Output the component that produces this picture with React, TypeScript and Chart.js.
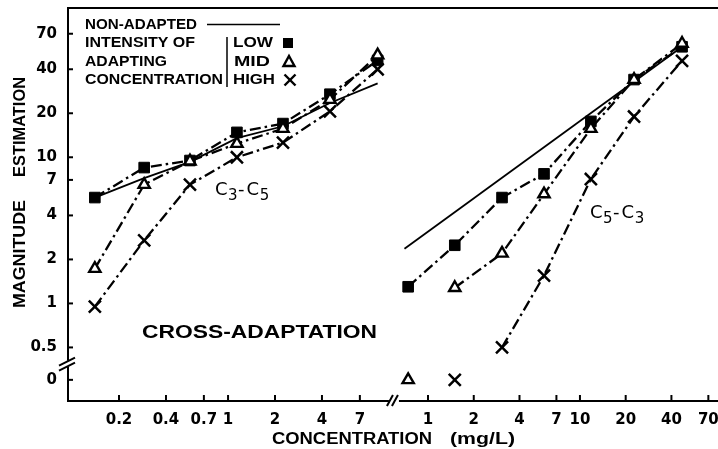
import React, { useEffect, useRef } from "react";
import { Chart, registerables } from "chart.js";

Chart.register(...registerables);

// ---- data (concentrations in mg/L, magnitude estimates) ----
// left panel: C3-C5 ; right panel: C5-C3
const LEFT_CONC = [0.14, 0.29, 0.57, 1.14, 2.25, 4.5, 9.1];
const RIGHT_CONC = [0.74, 1.5, 3.07, 5.8, 11.8, 22.7, 47];

const NONADAPTED_LEFT = [5.3, 7.2, 9.3, 13.5, 16.3, 23.5, 32];
const LOW_LEFT = [5.3, 8.5, 9.5, 14.8, 17, 27, 46];
const MID_LEFT = [1.73, 6.5, 9.4, 12.4, 15.7, 24.8, 50];
const HIGH_LEFT = [0.95, 2.7, 6.5, 10, 12.6, 20.6, 40];

const NONADAPTED_RIGHT_CONC = [0.7, 47];
const NONADAPTED_RIGHT = [2.37, 57];
const LOW_RIGHT = [1.3, 2.5, 5.3, 7.7, 17.6, 34, 57];
const MID_RIGHT = [0, 1.28, 2.2, 5.6, 15.7, 34, 60];
const HIGH_RIGHT = [null, 0, 0.5, 1.55, 7.1, 19, 45.7];

const Y_TICKS = [0, 0.5, 1, 2, 4, 7, 10, 20, 40, 70];
const Y_TICK_LABELS = ["0", "0.5", "1", "2", "4", "7", "10", "20", "40", "70"];
const X_TICKS_LEFT = [0.2, 0.4, 0.7, 1, 2, 4, 7];
const X_TICK_LABELS_LEFT = ["0.2", "0.4", "0.7", "1", "2", "4", "7"];
const X_TICKS_RIGHT = [1, 2, 4, 7, 10, 20, 40, 70];
const X_TICK_LABELS_RIGHT = ["1", "2", "4", "7", "10", "20", "40", "70"];

// ---- axis mapping (broken axes) ----
const ZERO_AT = 0.3; // where "0" sits below the y-axis break
const Y_MIN = 0.215;
const Y_MAX = 105;
const RIGHT_OFFSET = 1.282; // decades between the two x-axis segments
const RIGHT_SCALE = 0.974;
const X_MIN = -1.026;
const X_MAX = 3.141;

const uL = (c: number) => Math.log10(c);
const uR = (c: number) => RIGHT_OFFSET + RIGHT_SCALE * Math.log10(c);
const yPos = (v: number) => (v === 0 ? ZERO_AT : v);

const X_TICK_VALUES = [...X_TICKS_LEFT.map(uL), ...X_TICKS_RIGHT.map(uR)];
const X_TICK_LABELS = [...X_TICK_LABELS_LEFT, ...X_TICK_LABELS_RIGHT];
const Y_TICK_VALUES = Y_TICKS.map(yPos);
const Y_BREAK = Math.sqrt(0.5 * ZERO_AT);
const X_BREAK = (uL(7) + uR(1)) / 2;

function pts(concs: number[], vals: (number | null)[], u: (c: number) => number, zeros: boolean) {
  const out: { x: number; y: number }[] = [];
  concs.forEach((c, i) => {
    const v = vals[i];
    if (v === null || v === undefined) return;
    if (zeros ? v === 0 : v > 0) out.push({ x: u(c), y: yPos(v) });
  });
  return out;
}

const DASH = [11, 4, 2.5, 4];
const LOW_STYLE = { pointStyle: "rect", pointRadius: 7.5, pointBackgroundColor: "#000", pointBorderColor: "#000", pointBorderWidth: 1 };
const MID_STYLE = { pointStyle: "triangle", pointRadius: 6.5, pointBackgroundColor: "#fff", pointBorderColor: "#000", pointBorderWidth: 2.4 };
const HIGH_STYLE = { pointStyle: "crossRot", pointRadius: 8.5, pointBackgroundColor: "#000", pointBorderColor: "#000", pointBorderWidth: 2.5 };

const lineDs = (label: string, data: any[], style: any, dashed: boolean) => ({
  label,
  data,
  borderColor: "#000",
  borderWidth: dashed ? 2.3 : 1.8,
  borderDash: dashed ? DASH : [],
  showLine: true,
  fill: false,
  tension: 0,
  pointRadius: 0,
  pointHoverRadius: 0,
  ...style,
});
const zeroDs = (label: string, data: any[], style: any) => ({ label, data, showLine: false, ...style });

function fitText(ctx: CanvasRenderingContext2D, text: string, x: number, y: number, width: number, font: string, align = "left", rotate = false) {
  ctx.save();
  ctx.font = font;
  ctx.textBaseline = "middle";
  ctx.textAlign = "left";
  const w = ctx.measureText(text).width;
  ctx.translate(x, y);
  if (rotate) ctx.rotate(-Math.PI / 2);
  ctx.scale(width / w, 1);
  ctx.fillText(text, align === "center" ? -w / 2 : 0, 0);
  ctx.restore();
}

function seg(ctx: CanvasRenderingContext2D, x1: number, y1: number, x2: number, y2: number) {
  ctx.beginPath();
  ctx.moveTo(x1, y1);
  ctx.lineTo(x2, y2);
  ctx.stroke();
}

function marker(ctx: CanvasRenderingContext2D, kind: string, x: number, y: number) {
  ctx.save();
  ctx.lineWidth = 2.4;
  if (kind === "rect") {
    ctx.fillRect(x - 5, y - 5, 10, 10);
  } else if (kind === "tri") {
    ctx.beginPath();
    ctx.moveTo(x, y - 6);
    ctx.lineTo(x + 5.5, y + 4);
    ctx.lineTo(x - 5.5, y + 4);
    ctx.closePath();
    ctx.stroke();
  } else {
    seg(ctx, x - 5.5, y - 5.5, x + 5.5, y + 5.5);
    seg(ctx, x - 5.5, y + 5.5, x + 5.5, y - 5.5);
  }
  ctx.restore();
}

function chem(ctx: CanvasRenderingContext2D, x: number, base: number, parts: [string, boolean][]) {
  let cx = x;
  parts.forEach(([t, sub]) => {
    ctx.font = sub ? '15px "DejaVu Sans", sans-serif' : '18px "DejaVu Sans", sans-serif';
    ctx.textBaseline = "alphabetic";
    ctx.textAlign = "left";
    ctx.fillText(t, cx, sub ? base + 5 : base);
    cx += ctx.measureText(t).width + (t === "-" ? 2 : 0.5);
  });
}

const decor = {
  id: "decor",
  afterDraw(chart: any) {
    const ctx: CanvasRenderingContext2D = chart.ctx;
    const { left, right, top, bottom } = chart.chartArea;
    const xs = chart.scales.x;
    const ys = chart.scales.y;
    ctx.save();
    ctx.strokeStyle = "#000";
    ctx.fillStyle = "#000";
    ctx.lineWidth = 2;
    const yb = ys.getPixelForValue(Y_BREAK);
    const xb = xs.getPixelForValue(X_BREAK);
    // frame
    seg(ctx, left - 1, top, right, top);
    seg(ctx, left, top, left, yb - 3);
    seg(ctx, left, yb + 3, left, bottom + 1);
    seg(ctx, left - 1, bottom, xb - 5, bottom);
    seg(ctx, xb + 5, bottom, right, bottom);
    // inward ticks
    ys.ticks.forEach((t: any) => {
      const y = ys.getPixelForValue(t.value);
      seg(ctx, left, y, left + 5, y);
    });
    xs.ticks.forEach((t: any) => {
      const x = xs.getPixelForValue(t.value);
      seg(ctx, x, bottom, x, bottom - 6);
    });
    // break marks
    ctx.lineWidth = 2;
    seg(ctx, left - 9, yb + 2, left + 7, yb - 6);
    seg(ctx, left - 9, yb + 7, left + 7, yb - 1);
    seg(ctx, xb - 7, bottom + 5, xb - 1, bottom - 6);
    seg(ctx, xb - 2, bottom + 5, xb + 4, bottom - 6);

    // legend
    const LF = 'bold 14px "Liberation Sans", Arial, sans-serif';
    fitText(ctx, "NON-ADAPTED", 85, 25, 112, LF);
    ctx.lineWidth = 1.5;
    seg(ctx, 207, 24.5, 280, 24.5);
    fitText(ctx, "INTENSITY OF", 85, 43, 110, LF);
    fitText(ctx, "ADAPTING", 85, 62, 82, LF);
    fitText(ctx, "CONCENTRATION", 85, 80, 138, LF);
    seg(ctx, 227, 37, 227, 87);
    fitText(ctx, "LOW", 233, 43, 40, LF);
    fitText(ctx, "MID", 234, 62, 36, LF);
    fitText(ctx, "HIGH", 233, 80, 42, LF);
    marker(ctx, "rect", 288, 43);
    marker(ctx, "tri", 289, 62);
    marker(ctx, "x", 290, 80);

    // annotations
    chem(ctx, 215, 195, [["C", false], ["3", true], ["-", false], ["C", false], ["5", true]]);
    chem(ctx, 590, 218, [["C", false], ["5", true], ["-", false], ["C", false], ["3", true]]);
    fitText(ctx, "CROSS-ADAPTATION", 259.5, 333, 235, 'bold 19px "Liberation Sans", Arial, sans-serif', "center");

    // axis titles
    const TF = 'bold 17px "Liberation Sans", Arial, sans-serif';
    fitText(ctx, "ESTIMATION", 20, 127, 100, TF, "center", true);
    fitText(ctx, "MAGNITUDE", 20, 254, 108, TF, "center", true);
    const XF = 'bold 16px "Liberation Sans", Arial, sans-serif';
    fitText(ctx, "CONCENTRATION", 352, 440, 160, XF, "center");
    fitText(ctx, "(mg/L)", 482.5, 440, 65, XF, "center");
    ctx.restore();
  },
};

export default function App() {
  const ref = useRef<HTMLCanvasElement | null>(null);
  useEffect(() => {
    if (!ref.current) return;
    const tickFont = { family: '"DejaVu Sans", sans-serif', size: 15, weight: "bold" as const };
    const chart = new Chart(ref.current, {
      type: "line",
      data: {
        datasets: [
          lineDs("Mid (C3-C5)", pts(LEFT_CONC, MID_LEFT, uL, false), MID_STYLE, true),
          lineDs("Mid (C5-C3)", pts(RIGHT_CONC, MID_RIGHT, uR, false), MID_STYLE, true),
          zeroDs("Mid zero", pts(RIGHT_CONC, MID_RIGHT, uR, true), MID_STYLE),
          lineDs("High (C3-C5)", pts(LEFT_CONC, HIGH_LEFT, uL, false), HIGH_STYLE, true),
          lineDs("High (C5-C3)", pts(RIGHT_CONC, HIGH_RIGHT, uR, false), HIGH_STYLE, true),
          zeroDs("High zero", pts(RIGHT_CONC, HIGH_RIGHT, uR, true), HIGH_STYLE),
          lineDs("Low (C3-C5)", pts(LEFT_CONC, LOW_LEFT, uL, false), LOW_STYLE, true),
          lineDs("Low (C5-C3)", pts(RIGHT_CONC, LOW_RIGHT, uR, false), LOW_STYLE, true),
          lineDs("Non-adapted (C3-C5)", pts(LEFT_CONC, NONADAPTED_LEFT, uL, false), { pointRadius: 0 }, false),
          lineDs("Non-adapted (C5-C3)", pts(NONADAPTED_RIGHT_CONC, NONADAPTED_RIGHT, uR, false), { pointRadius: 0 }, false),
        ] as any,
      },
      options: {
        animation: false,
        responsive: false,
        devicePixelRatio: 1,
        layout: { autoPadding: false, padding: { top: 8, left: 0, right: 0, bottom: 0 } },
        plugins: { legend: { display: false }, tooltip: { enabled: false }, title: { display: false } },
        scales: {
          x: {
            type: "linear",
            min: X_MIN,
            max: X_MAX,
            grid: { display: false, drawTicks: false },
            border: { display: false },
            afterBuildTicks: (s: any) => {
              s.ticks = X_TICK_VALUES.map((v) => ({ value: v }));
            },
            afterFit: (s: any) => {
              s.height = 48;
              s.paddingLeft = 0;
              s.paddingRight = 0;
            },
            ticks: {
              autoSkip: false,
              maxRotation: 0,
              minRotation: 0,
              padding: 10,
              color: "#000",
              font: tickFont,
              callback: (_v: any, i: number) => X_TICK_LABELS[i],
            },
          },
          y: {
            type: "logarithmic",
            min: Y_MIN,
            max: Y_MAX,
            grid: { display: false, drawTicks: false },
            border: { display: false },
            afterBuildTicks: (s: any) => {
              s.ticks = Y_TICK_VALUES.map((v) => ({ value: v }));
            },
            afterFit: (s: any) => {
              s.width = 68;
              s.paddingTop = 0;
              s.paddingBottom = 0;
            },
            ticks: {
              autoSkip: false,
              padding: 11,
              color: "#000",
              font: tickFont,
              callback: (_v: any, i: number) => Y_TICK_LABELS[i],
            },
          },
        },
      } as any,
      plugins: [decor],
    });
    return () => chart.destroy();
  }, []);
  return (
    <div style={{ position: "fixed", left: 0, top: 0, width: 718, height: 449, background: "#fff" }}>
      <canvas ref={ref} width={718} height={449} style={{ display: "block" }} />
    </div>
  );
}
